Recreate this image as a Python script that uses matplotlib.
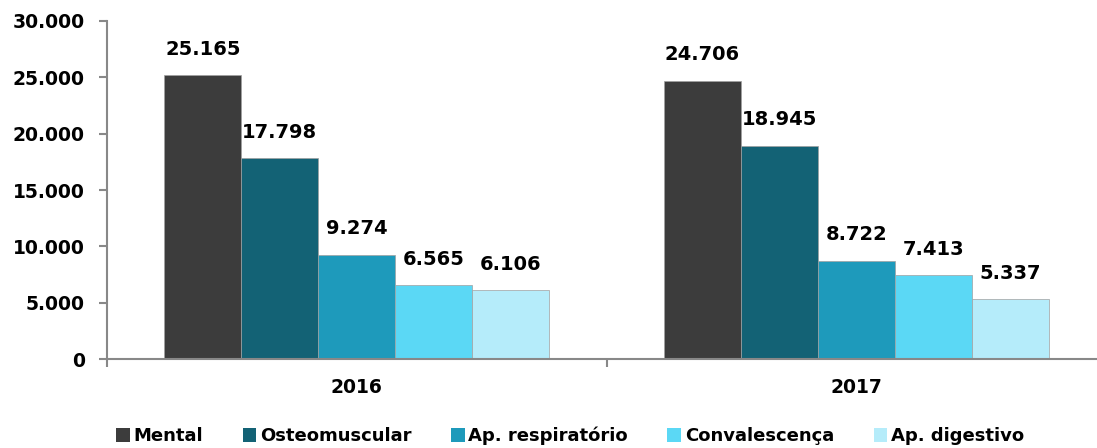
import matplotlib.pyplot as plt
from matplotlib.ticker import FuncFormatter
import numpy as np

# dados
anos = ['2016', '2017']
categorias = ['Mental', 'Osteomuscular', 'Ap. respiratório', 'Convalescença', 'Ap. digestivo']
mental = [25165, 24706]
osteomuscular = [17798, 18945]
respiratorio = [9274, 8722]
convalescenca = [6565, 7413]
digestivo = [6106, 5337]

series = [mental, osteomuscular, respiratorio, convalescenca, digestivo]
cores = ['#3c3c3c', '#136275', '#1e9abb', '#5bd8f5', '#b5ecfa']

plt.rcParams['font.family'] = ['DejaVu Sans']
plt.rcParams['font.weight'] = 'bold'

fig = plt.figure(figsize=(10.97, 4.48), dpi=100)
ax = fig.add_axes([107 / 1097, 89 / 448, 999 / 1097, 338 / 448])

x = np.arange(len(anos))
largura = 0.154
for i, (vals, cor, nome) in enumerate(zip(series, cores, categorias)):
    pos = x + (i - 2) * largura
    ax.bar(pos, vals, width=largura, color=cor, edgecolor='#a0a0a0', linewidth=0.5, label=nome)
    for p, v in zip(pos, vals):
        ax.text(p, v + 1450, f'{v:,}'.replace(',', '.'), ha='center', va='bottom',
                fontsize=14, fontweight='bold')

ax.set_xlim(-0.5, 1.5)
ax.set_ylim(0, 30000)
ax.set_yticks(range(0, 30001, 5000))
ax.yaxis.set_major_formatter(FuncFormatter(lambda v, _: f'{int(v):,}'.replace(',', '.')))
ax.set_xticks(x)
ax.set_xticklabels(anos)
ax.set_xticks([-0.5, 0.5, 1.5], minor=True)
ax.tick_params(axis='x', which='major', length=0, pad=14, labelsize=13.5)
ax.tick_params(axis='x', which='minor', length=6, color='#888888', width=1.5, direction='out')
ax.tick_params(axis='y', length=6, color='#888888', width=1.5, labelsize=13.5, pad=10)
for lbl in ax.get_xticklabels() + ax.get_yticklabels():
    lbl.set_fontweight('bold')

for s in ['top', 'right']:
    ax.spines[s].set_visible(False)
for s in ['left', 'bottom']:
    ax.spines[s].set_color('#888888')
    ax.spines[s].set_linewidth(1.5)

leg = fig.legend(loc='center', bbox_to_anchor=(570 / 1097, 12 / 448), ncol=5, frameon=False,
                 handlelength=0.75, handleheight=0.75, handletextpad=0.2, columnspacing=2.2,
                 prop={'weight': 'bold', 'size': 13})
for h in leg.legend_handles:
    h.set_edgecolor('none')

fig.savefig('out.png', dpi=100)
